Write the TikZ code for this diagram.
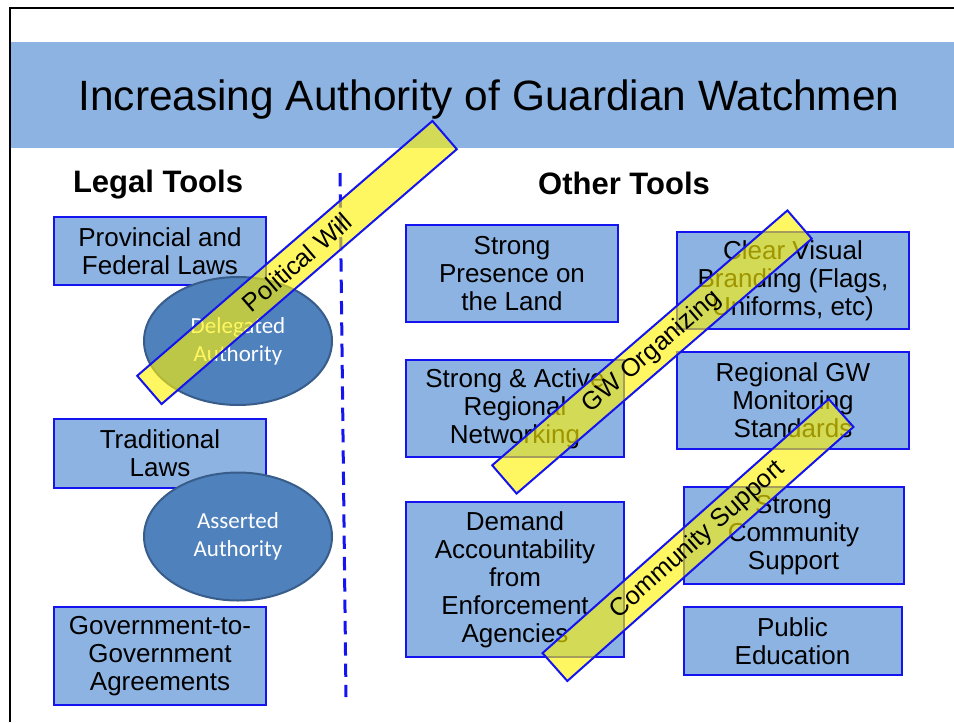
\documentclass[tikz,border=0pt]{standalone}
\usepackage{fontspec}
\setmainfont{Liberation Sans}
\newfontfamily\calibri{Carlito}
\usetikzlibrary{shapes.geometric}

\definecolor{boxblue}{RGB}{141,179,226}
\definecolor{ovalblue}{RGB}{79,129,189}
\definecolor{ovalline}{RGB}{56,93,138}
\definecolor{linkblue}{RGB}{20,20,240}

\begin{document}
\begin{tikzpicture}[x=0.75pt,y=-0.75pt,thick,
  tool node/.style={rectangle,fill=boxblue,draw=linkblue,line width=1.5pt,
  font=\fontsize{19.5}{21}\selectfont,align=center,inner sep=0pt},
  auth node/.style={ellipse,fill=ovalblue,draw=ovalline,line width=1.5pt,
  font=\calibri\fontsize{17.25}{21}\selectfont,text=white,align=center,
  inner sep=0pt,minimum width=141pt,minimum height=96pt},
  will node/.style={rectangle,draw=linkblue,line width=1.5pt,fill=yellow,
  fill opacity=0.62,text opacity=1,font=\fontsize{19}{21}\selectfont,
  minimum height=28pt,inner sep=0pt}]

  \useasboundingbox (0,0) rectangle (954,722);

  %Slide frame and title band%
  \draw[line width=1.5pt] (10,722) -- (10,8) -- (954,8);
  \fill[boxblue] (11,42) rectangle (954,148);
  \node (title) at (489,100) {\fontsize{31.8}{36}\selectfont Increasing Authority of Guardian Watchmen};

  \node[font=\fontsize{23.25}{26}\selectfont\bfseries] (legal) at (158,185) {Legal Tools};
  \node[font=\fontsize{23.25}{26}\selectfont\bfseries] (other) at (624,183) {Other Tools};

  %Legal tools%
  \node[tool node,minimum width=159pt,minimum height=51pt] (prov) at (160,251) {Provincial and\\Federal Laws};
  \node[tool node,minimum width=159pt,minimum height=51.75pt] (trad) at (160,453.5) {Traditional\\Laws};
  \node[tool node,minimum width=159pt,minimum height=73.5pt] (gov) at (160,656) {Government-to-\\Government\\Agreements};
  \node[auth node] (deleg) at (238,341) {Delegated\\Authority};
  \node[auth node] (assert) at (238,536.5) {Asserted\\Authority};

  %Other tools%
  \node[tool node,minimum width=159pt,minimum height=72.75pt] (presence) at (512,273.5) {Strong\\Presence on\\the Land};
  \node[tool node,minimum width=163.5pt,minimum height=72.75pt] (network) at (515,408.5) {Strong \& Active\\Regional\\Networking};
  \node[tool node,minimum width=163.5pt,minimum height=116.25pt] (demand) at (515,579.5) {Demand\\Accountability\\from\\Enforcement\\Agencies};
  \node[tool node,minimum width=174pt,minimum height=72.75pt] (brand) at (793,280.5) {Clear Visual\\Branding (Flags,\\Uniforms, etc)};
  \node[tool node,minimum width=174pt,minimum height=72.75pt] (monitor) at (793,400.5) {Regional GW\\Monitoring\\Standards};
  \node[tool node,minimum width=165pt,minimum height=72.75pt] (community) at (793.5,535.5) {Strong\\Community\\Support};
  \node[tool node,minimum width=163.5pt,minimum height=51pt] (public) at (792.5,641) {Public\\Education};

  %Divider between the two columns%
  \coordinate (divtop) at (340,173);
  \coordinate (divbot) at (346,697);
  \draw[linkblue,line width=2.25pt,dash pattern=on 10pt off 6pt] (divtop) -- (divbot);

  %Banners laid across the tools%
  \node[will node,rotate=40.8,minimum width=292.5pt] (polwill) at (297,262.5) {Political Will};
  \node[will node,rotate=40.8,minimum width=292.5pt] (gworg) at (652,352) {GW Organizing};
  \node[will node,rotate=41.6,minimum width=287pt] (commsup) at (698,540) {Community Support};

\end{tikzpicture}
\end{document}
